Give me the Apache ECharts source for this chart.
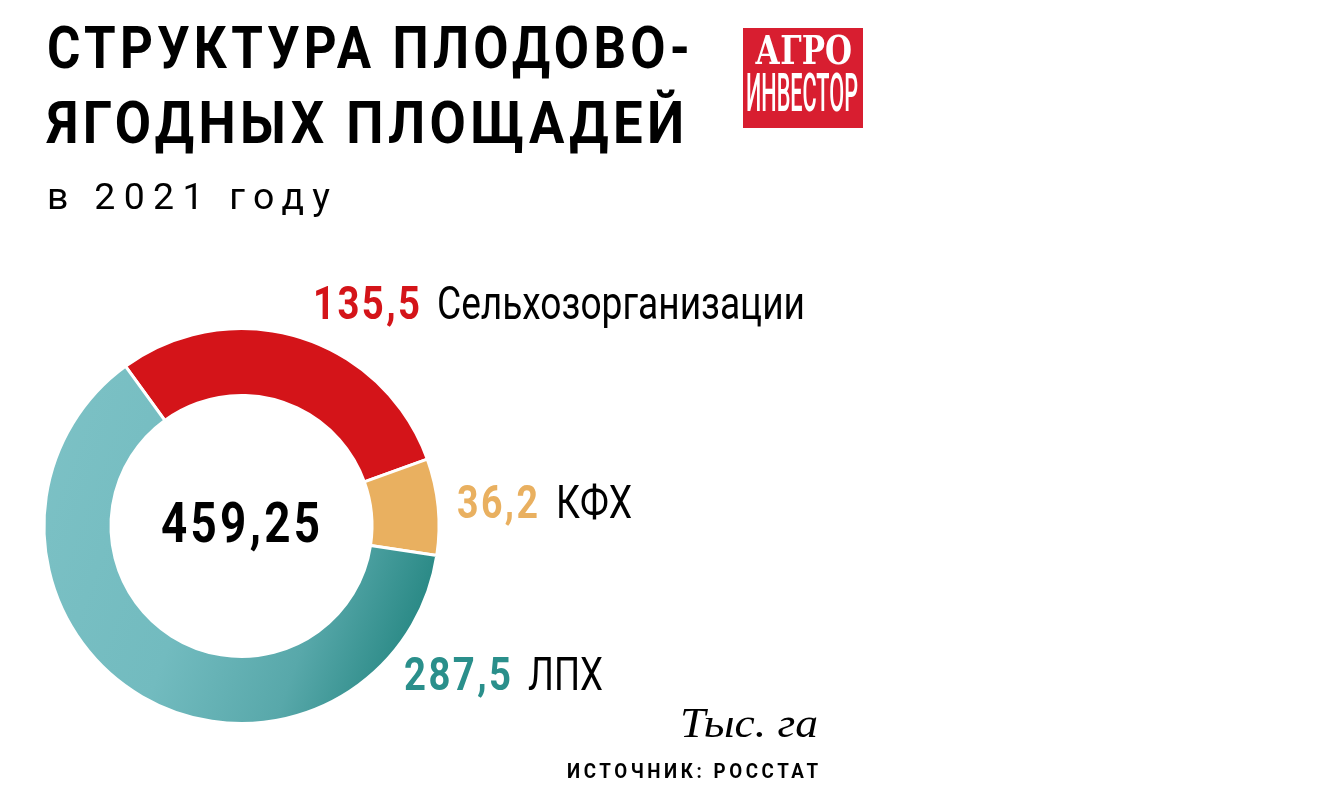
<!DOCTYPE html>
<html><head><meta charset="utf-8">
<script src="https://cdn.jsdelivr.net/npm/echarts@6/dist/echarts.min.js"></script>
<style>html,body{margin:0;padding:0;background:#fff}#main{width:1320px;height:811px}</style>
</head><body><div id="main"></div>
<script>
const titleLines = ['СТРУКТУРА ПЛОДОВО-', 'ЯГОДНЫХ ПЛОЩАДЕЙ'];
const subtitle = 'в 2021 году';
const categories = ['Сельхозорганизации', 'КФХ', 'ЛПХ'];
const values = [135.5, 36.2, 287.5];
const totalLabel = '459,25';
const unitLabel = 'Тыс. га';
const sourceLabel = 'ИСТОЧНИК: РОССТАТ';
const logoLines = ['АГРО', 'ИНВЕСТОР'];

const fmt = v => v.toFixed(1).replace('.', ',');

// letter spacing by font size (px) -> spacing px
const LS = {59: 5, 36: 8, 21: 4, 47: 3, 56: 4};
function lsFor(font) {
  const m = /(\d+)px/.exec(font);
  return m && LS[m[1]] ? LS[m[1]] : 0;
}
(function () {
  const P = CanvasRenderingContext2D.prototype;
  const of = P.fillText;
  P.fillText = function () {
    if ('letterSpacing' in this) this.letterSpacing = lsFor(this.font) + 'px';
    const r = of.apply(this, arguments);
    if ('letterSpacing' in this) this.letterSpacing = '0px';
    return r;
  };
})();
const mctx = document.createElement('canvas').getContext('2d');
function fitScale(text, font, w) {
  mctx.font = font;
  const ls = lsFor(font);
  let width;
  if ('letterSpacing' in mctx) {
    mctx.letterSpacing = ls + 'px';
    width = mctx.measureText(text).width - ls;
    mctx.letterSpacing = '0px';
  } else width = mctx.measureText(text).width;
  return w / width;
}
function txt(text, font, fill, x0, x1, yc) {
  return {type: 'text', x: x0, y: yc, scaleX: fitScale(text, font, x1 - x0),
    style: {text: text, font: font, fill: fill, align: 'left', verticalAlign: 'middle'}, silent: true};
}

const colors = ['#d41419', '#e9b060', {type: 'linear', x: 0, y: 0.2, x2: 1, y2: 0.6,
  colorStops: [{offset: 0, color: '#7cc1c5'}, {offset: 0.45, color: '#72bbbf'}, {offset: 0.75, color: '#58a8aa'}, {offset: 1, color: '#288884'}]}];
const labelColors = ['#d41419', '#e9b060', '#2a8f8b'];

const labelPos = [
  {vx: [313, 420], nx: [437, 805], y: 307},
  {vx: [457, 538], nx: [556, 632], y: 506},
  {vx: [404, 511], nx: [528, 603], y: 678}
];

const F_TITLE = 'bold 59px Roboto';
const F_SUB = '36px Roboto';
const F_VAL = 'bold 47px Roboto';
const F_NAME = '46px Roboto';
const F_CENTER = 'bold 56px Roboto';
const F_SRC = 'bold 21px Roboto';
const F_UNIT = 'italic 42px "Liberation Serif"';
const F_LOGO1 = 'bold 39px "DejaVu Serif"';
const F_LOGO2 = '500 54px Roboto';

function render() {
  const graphics = [
    txt(titleLines[0], F_TITLE, '#000', 47, 690, 53),
    txt(titleLines[1], F_TITLE, '#000', 47, 684, 128),
    txt(subtitle, F_SUB, '#000', 47, 330, 200),
    {type: 'rect', shape: {x: 743, y: 28, width: 120, height: 100}, style: {fill: '#d81e30'}, silent: true},
    txt(logoLines[0], F_LOGO1, '#fff', 755, 852, 54),
    txt(logoLines[1], F_LOGO2, '#fff', 746, 858, 97),
    txt(totalLabel, F_CENTER, '#000', 161, 320, 528),
    txt(unitLabel, F_UNIT, '#000', 680, 818, 726),
    txt(sourceLabel, F_SRC, '#000', 567, 818, 773)
  ];
  categories.forEach((c, i) => {
    const p = labelPos[i];
    graphics.push(txt(fmt(values[i]), F_VAL, labelColors[i], p.vx[0], p.vx[1], p.y));
    graphics.push(txt(c, F_NAME, '#000', p.nx[0], p.nx[1], p.y));
  });

  const chart = echarts.init(document.getElementById('main'));
  chart.setOption({
    animation: false,
    backgroundColor: '#fff',
    series: [{
      type: 'pie',
      radius: [130.5, 197.5],
      center: [241.5, 526],
      startAngle: 126,
      clockwise: true,
      label: {show: false},
      labelLine: {show: false},
      emphasis: {disabled: true},
      itemStyle: {borderColor: '#fff', borderWidth: 3},
      data: categories.map((c, i) => ({name: c, value: values[i], itemStyle: {color: colors[i]}}))
    }],
    graphic: graphics
  });
}
const fontsToLoad = [F_TITLE, F_SUB, F_VAL, F_NAME, F_CENTER, F_SRC, F_UNIT, F_LOGO1, F_LOGO2];
if (document.fonts && document.fonts.load) {
  Promise.all(fontsToLoad.map(f => document.fonts.load(f, 'АБВабв0123').catch(() => null)))
    .then(render, render);
} else render();
</script></body></html>
